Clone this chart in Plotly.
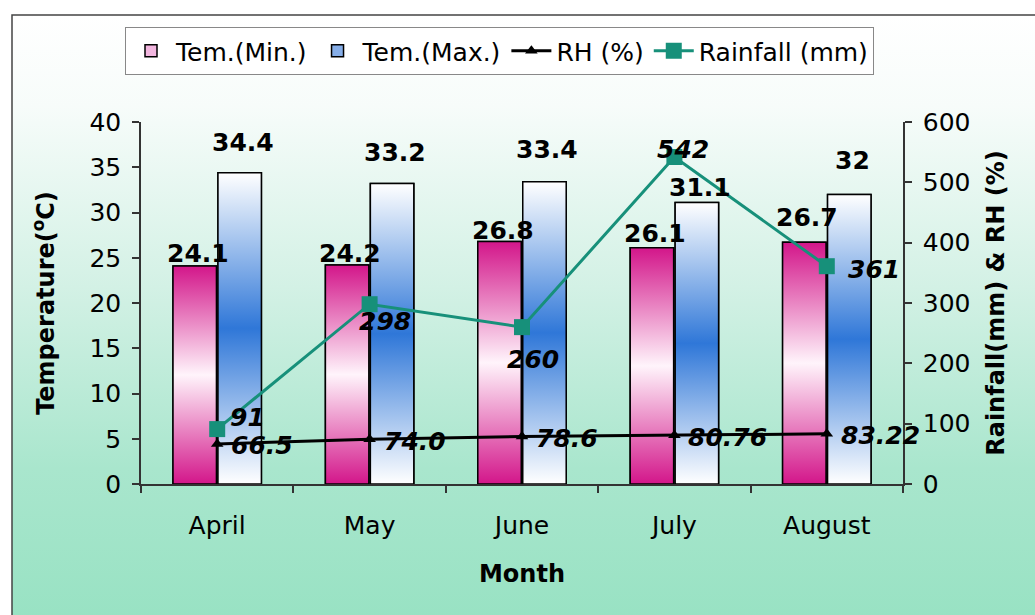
import base64
import plotly.graph_objects as go

# ---- data ----
months = ["April", "May", "June", "July", "August"]
tem_min = [24.1, 24.2, 26.8, 26.1, 26.7]
tem_max = [34.4, 33.2, 33.4, 31.1, 32]
rh = [66.5, 74.0, 78.6, 80.76, 83.22]
rainfall = [91, 298, 260, 542, 361]

# ---- layout constants ----
W, H = 1035, 615
ML, MR, MT, MB = 141, 132, 122, 131
FONT = "DejaVu Sans"
BAR_W = 0.285
MIN_OFF = -0.29
MAX_OFF = 0.005

MIN_SCALE = [[0, "#d3168a"], [0.5, "#fff4fb"], [1, "#d3168a"]]
MAX_SCALE = [[0, "#ffffff"], [0.5, "#2f77d8"], [1, "#ffffff"]]
RAIN_COLOR = "#17907a"

# label placement (pixel shifts)
min_lift = [-4, -5, -6, -2, 8]
max_lift = [14, 15, 16, -1, 17]
rain_shift = [(30, 12), (15, -17), (11, -32), (9, 7), (47, -3)]


def px_x(p):
    return (p - ML) / (W - ML - MR)


def px_y(p):
    return (H - MB - p) / (H - MT - MB)


idx = list(range(len(months)))
fig = go.Figure()

# bars (solid colour shows in the legend, gradient overlay drawn on top)
fig.add_trace(go.Bar(x=idx, y=tem_min, name="Tem.(Min.)", width=BAR_W, offset=MIN_OFF,
                     marker=dict(color="#f2b6df", line=dict(color="black", width=1.5))))
fig.add_trace(go.Bar(x=idx, y=tem_max, name="Tem.(Max.)", width=BAR_W, offset=MAX_OFF,
                     marker=dict(color="#86aee8", line=dict(color="black", width=1.5))))

# gradient fill for each bar, built from the same values
for values, off, scale in ((tem_min, MIN_OFF, MIN_SCALE), (tem_max, MAX_OFF, MAX_SCALE)):
    for i, v in zip(idx, values):
        x0, x1 = i + off, i + off + BAR_W
        fig.add_trace(go.Scatter(
            x=[x0, x1, x1, x0, x0], y=[0, 0, v, v, 0], mode="lines", fill="toself",
            fillgradient=dict(type="vertical", colorscale=scale),
            line=dict(color="black", width=1.5), showlegend=False, hoverinfo="skip"))

fig.add_trace(go.Scatter(x=idx, y=rh, name="RH (%)", yaxis="y2", mode="lines+markers",
                         line=dict(color="black", width=3),
                         marker=dict(symbol="triangle-up", size=11, color="black")))
fig.add_trace(go.Scatter(x=idx, y=rainfall, name="Rainfall (mm)", yaxis="y2", mode="lines+markers",
                         line=dict(color=RAIN_COLOR, width=3),
                         marker=dict(symbol="square", size=16, color=RAIN_COLOR)))

annotations = []
lab_font = dict(family=FONT, size=25, color="black", weight="bold")
ital_font = dict(family=FONT, size=25, color="black", weight="bold", style="italic")
for i, v, lift in zip(idx, tem_min, min_lift):
    annotations.append(dict(x=i + MIN_OFF + BAR_W / 2, y=v, xref="x", yref="y", text=str(v),
                            showarrow=False, yanchor="bottom", xshift=3, yshift=lift, font=lab_font))
for i, v, lift in zip(idx, tem_max, max_lift):
    annotations.append(dict(x=i + MAX_OFF + BAR_W / 2, y=v, xref="x", yref="y", text=str(v),
                            showarrow=False, yanchor="bottom", xshift=3, yshift=lift, font=lab_font))
for i, v in zip(idx, rh):
    annotations.append(dict(x=i, y=v, xref="x", yref="y2", text=str(v), showarrow=False,
                            xanchor="left", yanchor="middle", xshift=12, yshift=-2, font=ital_font))
for i, v, (dx, dy) in zip(idx, rainfall, rain_shift):
    annotations.append(dict(x=i, y=v, xref="x", yref="y2", text=str(v), showarrow=False,
                            xanchor="center", yanchor="middle", xshift=dx, yshift=dy, font=ital_font))

# soft white-to-mint backdrop
svg = ('<svg xmlns="http://www.w3.org/2000/svg" width="200" height="200" preserveAspectRatio="none">'
       '<defs><linearGradient id="g" x1="0" y1="0" x2="0" y2="1">'
       '<stop offset="0" stop-color="#ffffff"/>'
       '<stop offset="0.15" stop-color="#f7fcfa"/>'
       '<stop offset="0.45" stop-color="#d3f1e5"/>'
       '<stop offset="0.75" stop-color="#a9e6cd"/>'
       '<stop offset="1" stop-color="#98e2c3"/>'
       '</linearGradient></defs><rect width="200" height="200" fill="url(#g)"/></svg>')
bg_src = "data:image/svg+xml;base64," + base64.b64encode(svg.encode()).decode()

axis_line = "#333333"
title_font = dict(family=FONT, size=24, weight="bold", color="black")
fig.update_layout(
    width=W, height=H,
    margin=dict(l=ML, r=MR, t=MT, b=MB, autoexpand=False),
    paper_bgcolor="white", plot_bgcolor="rgba(0,0,0,0)",
    font=dict(family=FONT, size=25, color="black"),
    barmode="overlay",
    showlegend=True,
    legend=dict(orientation="h", xref="container", x=125 / W, xanchor="left",
                yref="container", y=1 - 27 / H, yanchor="top",
                bgcolor="white", bordercolor="#888888", borderwidth=1,
                font=dict(family=FONT, size=25, color="black"), itemwidth=40),
    images=[dict(source=bg_src, xref="paper", yref="paper", x=px_x(12), y=px_y(15),
                 sizex=px_x(W + 5) - px_x(12), sizey=px_y(15) - px_y(H + 5),
                 xanchor="left", yanchor="top", sizing="stretch", layer="below")],
    shapes=[dict(type="rect", xref="paper", yref="paper", x0=px_x(12), x1=px_x(W + 10),
                 y0=px_y(H + 10), y1=px_y(15), line=dict(color="#444444", width=1.5),
                 fillcolor="rgba(0,0,0,0)", layer="below")],
    xaxis=dict(range=[-0.5, 4.5], tickmode="array", tickvals=idx, ticktext=months,
               showline=True, linecolor=axis_line, linewidth=1.5, showgrid=False, zeroline=False,
               ticks="outside", ticklen=18, tickcolor="rgba(0,0,0,0)",
               minor=dict(tickmode="array", tickvals=[i - 0.5 for i in range(len(months) + 1)],
                          ticks="outside", ticklen=7, tickcolor=axis_line, tickwidth=1.5),
               title=dict(text="Month", font=title_font, standoff=26)),
    yaxis=dict(range=[0, 40], dtick=5, showline=True, linecolor=axis_line, linewidth=1.5,
               showgrid=False, zeroline=False, ticks="outside", ticklen=7, tickwidth=1.5,
               tickcolor=axis_line, ticklabelstandoff=6,
               title=dict(text="Temperature(<sup>o</sup>C)", font=title_font, standoff=28)),
    yaxis2=dict(range=[0, 600], dtick=100, overlaying="y", side="right", showline=True,
                linecolor=axis_line, linewidth=1.5, showgrid=False, zeroline=False, ticks="outside",
                ticklen=7, tickwidth=1.5, tickcolor=axis_line, ticklabelstandoff=6,
                title=dict(text="Rainfall(mm) & RH (%)", font=title_font, standoff=18)),
    annotations=annotations,
)

fig.write_html("out.html")
